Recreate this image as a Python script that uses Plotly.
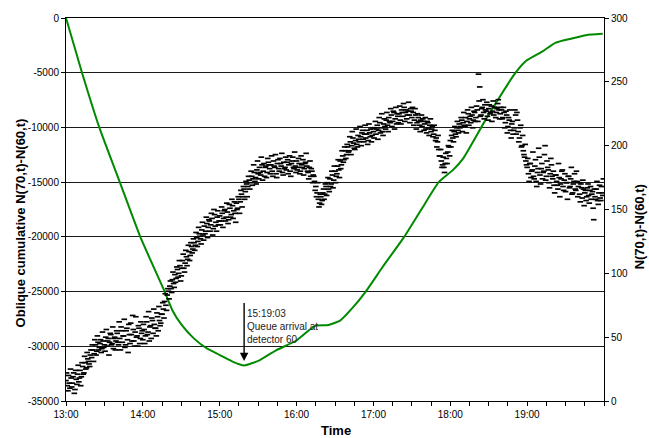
import pandas as pd
import plotly.graph_objects as go

DAY = "2000-01-01 "

# Oblique cumulative count N(70,t)-N(60,t) (left axis)
cum_times = ["13:00:00", "13:12:30", "13:26:00", "13:42:00", "13:58:00", "14:17:00",
             "14:23:00", "14:30:00", "14:40:00", "14:50:00", "15:00:00", "15:10:00",
             "15:19:03", "15:31:00", "15:44:00", "16:00:00", "16:09:00", "16:15:00",
             "16:25:00", "16:34:00", "16:44:00", "16:54:00", "17:07:00", "17:24:00",
             "17:38:00", "17:51:00", "18:02:00", "18:10:00", "18:28:00", "18:51:00",
             "18:59:00", "19:12:00", "19:22:00", "19:35:00", "19:46:00", "19:59:00"]
cum_values = [0, -5000, -10000, -15000, -20000, -25000,
              -26700, -28000, -29300, -30200, -30800, -31400,
              -31750, -31280, -30370, -29470, -28600, -28110,
              -28050, -27650, -26450, -25000, -22780, -20000,
              -17380, -15000, -13900, -12850, -9220, -5000,
              -3930, -3050, -2270, -1870, -1570, -1450]

# Vehicles between detectors 60 and 70 (right axis):
# readings on the minute from 13:00 ...
count_start = "13:00:00"
count_values = [
    16, 12, 20, 10, 18, 14, 22, 9, 17, 21, 15, 24, 19, 27, 22, 30, 26, 33, 29, 36,
    34, 40, 37, 44, 39, 46, 42, 48, 41, 47, 44, 50, 43, 49, 46, 52, 45, 41, 50, 47,
    53, 44, 49, 58, 46, 51, 42, 55, 48, 60, 45, 52, 67, 47, 54, 50, 43, 57, 49, 53,
    48, 56, 51, 62, 54, 47, 59, 65, 53, 60, 57, 69, 55, 63, 61, 68, 72, 78, 75, 83,
    86, 90, 88, 95, 92, 99, 96, 103, 100, 106, 98, 110, 104, 108, 113, 111, 117, 114, 121, 119,
    124, 122, 128, 125, 131, 127, 134, 130, 137, 133, 139, 136, 141, 138, 143, 135, 146, 140, 144, 138,
    145, 141, 147, 143, 150, 144, 148, 142, 151, 146, 153, 149, 147, 155, 151, 158, 156, 162, 160, 166,
    164, 170, 168, 173, 171, 176, 174, 179, 175, 181, 178, 183, 177, 185, 180, 176, 184, 179, 187, 182,
    185, 180, 188, 183, 178, 186, 182, 190, 184, 179, 187, 183, 181, 189, 185, 180, 186, 191, 182, 184,
    188, 183, 186, 180, 185, 189, 182, 187, 184, 179, 183, 176, 180, 177, 172, 168, 163, 158, 155, 160,
    157, 166, 162, 168, 171, 166, 174, 170, 177, 173, 180, 176, 184, 181, 188, 185, 192, 189, 196, 193,
    199, 196, 203, 200, 206, 198, 204, 201, 208, 203, 207, 210, 205, 209, 206, 212, 204, 210, 213, 208,
    211, 214, 209, 216, 212, 218, 214, 211, 217, 215, 220, 216, 222, 218, 224, 219, 226, 221, 217, 223,
    225, 220, 228, 223, 230, 226, 221, 227, 224, 229, 222, 226, 220, 224, 218, 222, 216, 220, 215, 219,
    217, 213, 219, 214, 216, 211, 215, 209, 212, 206, 203, 197, 192, 188, 185, 183, 186, 190, 195, 199,
    204, 208, 206, 211, 209, 214, 212, 217, 215, 220, 218, 216, 222, 219, 225, 221, 218, 224, 220, 226,
    222, 228, 256, 246, 224, 230, 226, 232, 227, 223, 229, 225, 231, 227, 224, 230, 226, 233, 228, 225,
    228, 222, 226, 218, 224, 215, 220, 212, 217, 209, 214, 224, 226, 211, 206, 216, 200, 196, 191, 188,
    183, 178, 186, 175, 181, 176, 184, 172, 179, 198, 177, 182, 174, 180, 200, 176, 183, 171, 178, 185,
    174, 169, 177, 172, 166, 175, 170, 180, 168, 173, 164, 171, 176, 167, 174, 162, 170, 178, 165, 172,
    168, 162, 170, 159, 166, 163, 157, 167, 161, 165, 158, 164, 142, 160, 166, 157, 163, 159, 168, 161,
]
# ... and on the half minute from 13:00:30
half_start = "13:00:30"
half_values = [
    22, 8, 14, 25, 11, 19, 6, 24, 13, 28, 18, 12, 30, 21, 35, 25, 38, 31, 27, 40,
    44, 31, 48, 36, 51, 40, 45, 38, 54, 42, 39, 56, 47, 36, 53, 44, 58, 49, 40, 55,
    46, 62, 40, 55, 51, 64, 44, 57, 38, 52, 61, 47, 56, 43, 66, 51, 59, 45, 62, 55,
    60, 45, 66, 52, 70, 58, 49, 63, 72, 57, 51, 66, 74, 59, 68, 77, 65, 84, 71, 88,
    80, 94, 85, 101, 89, 93, 105, 97, 110, 94, 104, 115, 101, 118, 106, 122, 110, 124, 116, 127,
    118, 132, 121, 136, 129, 123, 140, 126, 131, 144, 128, 142, 133, 147, 130, 150, 137, 133, 149, 141,
    138, 152, 136, 149, 141, 155, 139, 154, 144, 158, 143, 156, 140, 150, 160, 147, 165, 152, 168, 158,
    172, 160, 176, 166, 180, 169, 185, 172, 170, 188, 174, 179, 191, 173, 186, 183, 175, 190, 185, 178,
    192, 176, 184, 193, 175, 189, 180, 186, 194, 177, 182, 191, 187, 178, 192, 176, 188, 183, 195, 179,
    181, 190, 178, 192, 183, 177, 186, 194, 180, 174, 188, 182, 171, 176, 165, 160, 171, 152, 162, 154,
    163, 158, 170, 161, 175, 164, 168, 180, 167, 184, 171, 178, 189, 175, 182, 196, 187, 199, 190, 201,
    195, 207, 193, 211, 202, 197, 213, 199, 205, 215, 200, 212, 203, 216, 209, 201, 217, 207, 203, 214,
    206, 219, 213, 205, 222, 210, 225, 208, 221, 213, 226, 211, 219, 229, 215, 227, 213, 230, 225, 218,
    231, 217, 226, 233, 219, 228, 224, 234, 218, 227, 230, 216, 229, 213, 225, 219, 211, 224, 221, 212,
    222, 210, 218, 208, 221, 213, 207, 216, 204, 199, 208, 192, 197, 183, 191, 179, 194, 186, 200, 192,
    199, 212, 203, 215, 207, 219, 210, 214, 222, 211, 226, 215, 210, 228, 216, 223, 230, 214, 227, 219,
    231, 219, 235, 223, 229, 236, 221, 228, 234, 220, 232, 226, 219, 235, 230, 222, 229, 236, 221, 230,
    221, 230, 214, 227, 210, 222, 228, 206, 219, 212, 228, 209, 220, 203, 214, 199, 208, 193, 201, 185,
    190, 172, 186, 180, 195, 174, 189, 168, 182, 191, 170, 186, 179, 193, 173, 188, 181, 167, 190, 176,
    180, 163, 177, 169, 186, 160, 174, 181, 165, 178, 171, 158, 176, 168, 183, 163, 172, 166, 180, 160,
    171, 156, 167, 173, 153, 165, 160, 170, 155, 168, 162, 151, 166, 158, 172, 154, 169, 157, 163, 174,
]

hour_labels = ["13:00", "14:00", "15:00", "16:00", "17:00", "18:00", "19:00"]
left_ticks = [0, -5000, -10000, -15000, -20000, -25000, -30000, -35000]
right_ticks = [0, 50, 100, 150, 200, 250, 300]

arrival_time = "15:19:03"
arrival_text = "15:19:03<br>Queue arrival at<br>detector 60"

FONT = "Liberation Sans, Arial, sans-serif"

cum_x = pd.to_datetime([DAY + t for t in cum_times])
minute_x = pd.date_range(DAY + count_start, periods=len(count_values), freq="1min")
half_x = pd.date_range(DAY + half_start, periods=len(half_values), freq="1min")

# quarter-hour tick marks, labelled on the hour only
tick_x = pd.date_range(DAY + "13:00", DAY + "20:00", freq="15min")
tick_text = [t.strftime("%H:%M") if t.minute == 0 and t.strftime("%H:%M") in hour_labels else ""
             for t in tick_x]

dash = dict(symbol="line-ew", size=4, color="black", line=dict(color="black", width=1.7))

fig = go.Figure()

for xs, ys in ((minute_x, count_values), (half_x, half_values)):
    fig.add_trace(go.Scatter(
        x=xs, y=ys, yaxis="y2", mode="markers", marker=dash,
        showlegend=False, hoverinfo="x+y",
    ))

fig.add_trace(go.Scatter(
    x=cum_x, y=cum_values, mode="lines",
    line=dict(color="#008a00", width=2, shape="spline", smoothing=0.5),
    showlegend=False,
))

arrow_head = pd.Timestamp(DAY + arrival_time)
fig.add_annotation(
    x=arrow_head, y=-31350, xref="x", yref="y",
    ax=arrow_head, ay=-25900, axref="x", ayref="y",
    text="", showarrow=True, arrowhead=2, arrowsize=1.2, arrowwidth=1.4,
    arrowcolor="black",
)
fig.add_annotation(
    x=arrow_head, y=-26300, xref="x", yref="y", xanchor="left", yanchor="top",
    xshift=1, text=arrival_text, showarrow=False, align="left",
    font=dict(family=FONT, size=10, color="#222"),
)

W, H = 649, 438
L, R, T, B = 66, 604, 15, 401


def px_to_paper(px, py):
    return (px - L) / (R - L), (B - py) / (B - T)


# axis titles
for text, px, py, angle in (
    ("<b>Oblique cumulative N(70,t)-N(60,t)</b>", 20, 222, -90),
    ("<b>N(70,t)-N(60,t)</b>", 639, 226, -90),
    ("<b>Time</b>", 336, 431, 0),
):
    xp, yp = px_to_paper(px, py)
    fig.add_annotation(
        x=xp, y=yp, xref="paper", yref="paper", xanchor="center", yanchor="middle",
        text=text, textangle=angle, showarrow=False,
        font=dict(family=FONT, size=13, color="black"),
    )

fig.update_layout(
    width=W, height=H,
    margin=dict(l=L, r=W - R, t=T, b=H - B),
    paper_bgcolor="white", plot_bgcolor="white",
    font=dict(family=FONT, size=10, color="black"),
    xaxis=dict(
        type="date",
        range=[DAY + "13:00", DAY + "20:00"],
        tickvals=list(tick_x), ticktext=tick_text,
        ticks="outside", ticklen=4, tickcolor="black", tickwidth=1,
        showline=True, linecolor="black", linewidth=1, mirror=True,
        showgrid=False, zeroline=False,
        tickfont=dict(family=FONT, size=10, color="black"),
    ),
    yaxis=dict(
        range=[-35000, 0], tickvals=left_ticks, ticktext=[str(v) for v in left_ticks],
        ticks="outside", ticklen=4, tickcolor="black",
        showline=True, linecolor="black", linewidth=1,
        showgrid=True, gridcolor="#1a1a1a", gridwidth=1, zeroline=False,
        tickfont=dict(family=FONT, size=10, color="black"),
    ),
    yaxis2=dict(
        range=[0, 300], tickvals=right_ticks, overlaying="y", side="right",
        ticks="outside", ticklen=4, tickcolor="black",
        showline=True, linecolor="black", linewidth=1,
        showgrid=False, zeroline=False,
        tickfont=dict(family=FONT, size=10, color="black"),
    ),
)

fig.write_html("out.html")
